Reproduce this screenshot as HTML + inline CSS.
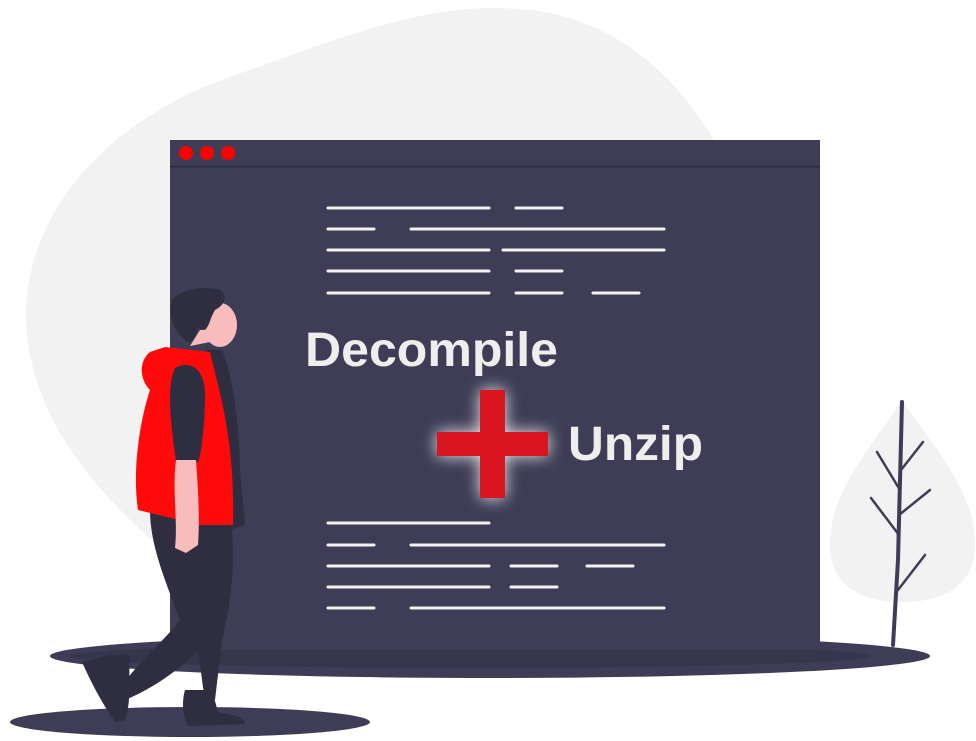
<!DOCTYPE html>
<html><head><style>
html,body{margin:0;padding:0;background:#fff;}
svg{display:block;}
text{font-family:"Liberation Sans",sans-serif;font-weight:bold;}
</style></head><body>
<svg width="976" height="741" viewBox="0 0 976 741" xmlns="http://www.w3.org/2000/svg">
<defs>
<filter id="glow" x="-50%" y="-50%" width="200%" height="200%">
<feGaussianBlur stdDeviation="8"/>
</filter>
</defs>
<!-- background blob -->
<path d="M175,560 C90,490 25,410 26,310 C30,200 120,110 250,70 C360,30 440,0 530,10 C620,20 680,80 720,150 L720,560 Z" fill="#f2f2f2"/>
<!-- tree leaf -->
<path d="M902,400 C870,450 830,490 830,545 C830,585 860,602 902,602 C945,602 975,585 975,545 C975,490 935,450 902,400 Z" fill="#f2f2f2"/>
<!-- ground shadow -->
<ellipse cx="490" cy="656" rx="440" ry="22" fill="#3f3d56"/>
<ellipse cx="470" cy="656" rx="400" ry="12" fill="#2f2e41" opacity="0.5"/>
<!-- window -->
<rect x="170" y="140" width="650" height="510" fill="#3f3d56"/>
<line x1="170" y1="166.5" x2="820" y2="166.5" stroke="#2f2e41" stroke-width="2"/>
<circle cx="186" cy="153" r="7" fill="#ff0000"/>
<circle cx="207" cy="153" r="7" fill="#ff0000"/>
<circle cx="228" cy="153" r="7" fill="#ff0000"/>
<g stroke="#f2f2f2" stroke-width="3" stroke-linecap="round">
<line x1="328" y1="208" x2="489" y2="208"/><line x1="516" y1="208" x2="562" y2="208"/>
<line x1="328" y1="229" x2="374" y2="229"/><line x1="411" y1="229" x2="664" y2="229"/>
<line x1="328" y1="250" x2="489" y2="250"/><line x1="503" y1="250" x2="664" y2="250"/>
<line x1="328" y1="271" x2="489" y2="271"/><line x1="516" y1="271" x2="562" y2="271"/>
<line x1="328" y1="293" x2="489" y2="293"/><line x1="516" y1="293" x2="562" y2="293"/><line x1="593" y1="293" x2="639" y2="293"/>
<line x1="328" y1="523" x2="489" y2="523"/>
<line x1="328" y1="545" x2="374" y2="545"/><line x1="411" y1="545" x2="664" y2="545"/>
<line x1="328" y1="566" x2="489" y2="566"/><line x1="511" y1="566" x2="557" y2="566"/><line x1="587" y1="566" x2="633" y2="566"/>
<line x1="328" y1="587" x2="489" y2="587"/><line x1="511" y1="587" x2="557" y2="587"/>
<line x1="328" y1="608" x2="374" y2="608"/><line x1="411" y1="608" x2="664" y2="608"/>
</g>
<text x="305" y="366" font-size="48" fill="#eeeeee" textLength="253" lengthAdjust="spacingAndGlyphs">Decompile</text>
<text x="568" y="460" font-size="48" fill="#eeeeee" textLength="135" lengthAdjust="spacingAndGlyphs">Unzip</text>
<!-- plus -->
<g filter="url(#glow)" fill="#ffffff" opacity="0.9">
<rect x="437" y="432" width="111" height="24"/><rect x="480" y="390" width="25" height="108"/>
</g>
<g fill="#d9161f">
<rect x="437" y="432" width="111" height="24"/><rect x="480" y="390" width="25" height="108"/>
</g>
<!-- tree -->
<g stroke="#3f3d56" stroke-linecap="round" fill="none">
<path d="M902,402 L898,560 L893,645" stroke-width="4"/>
<path d="M901,470 L923,442" stroke-width="2.5"/>
<path d="M900,490 L877,452" stroke-width="2.5"/>
<path d="M899,515 L930,490" stroke-width="2.5"/>
<path d="M899,535 L871,498" stroke-width="2.5"/>
<path d="M898,590 L925,555" stroke-width="2.5"/>
</g>
<!-- person shadow -->
<ellipse cx="190" cy="722" rx="180" ry="15" fill="#3f3d56"/>
<!-- person -->
<g>
<path d="M150,510 L230,510 C236,560 232,600 222,640 L215,700 L205,702 L198,650 C180,670 150,690 125,700 L120,688 C140,660 165,640 180,620 C165,580 150,545 150,510 Z" fill="#2f2e41"/>
<path d="M110,655 L130,655 C128,680 132,700 125,720 L115,722 C100,700 90,680 82,662 Z" fill="#2f2e41"/>
<path d="M185,690 L212,690 L218,712 C230,715 245,716 245,724 L188,726 C182,715 182,700 185,690 Z" fill="#2f2e41"/>
<path d="M205,350 L222,350 C235,380 240,440 240,470 L245,525 L230,530 L200,500 Z" fill="#2f2e41"/>
<path d="M165,347 L210,352 C220,395 235,440 233,525 L200,525 L138,510 C132,470 140,420 150,390 C140,380 138,362 150,352 Z" fill="#ff0a0a"/>
<path d="M175,368 C190,360 205,368 205,395 C205,430 200,460 198,462 L176,462 C172,430 165,390 175,368 Z" fill="#2f2e41"/>
<path d="M176,460 L196,460 C198,490 200,515 198,545 L186,553 L175,548 C178,520 172,490 176,460 Z" fill="#f9bcbc"/>
<ellipse cx="220" cy="325" rx="17" ry="22" fill="#f9bcbc"/>
<path d="M190,346 L210,342 L210,330 L200,330 Z" fill="#f9bcbc"/>
<path d="M172,300 C180,290 200,285 220,290 C228,296 225,305 215,310 C210,318 210,325 205,330 L198,328 C195,340 190,345 185,340 C172,330 168,312 172,300 Z" fill="#2f2e41"/>
</g>
</svg>
</body></html>
